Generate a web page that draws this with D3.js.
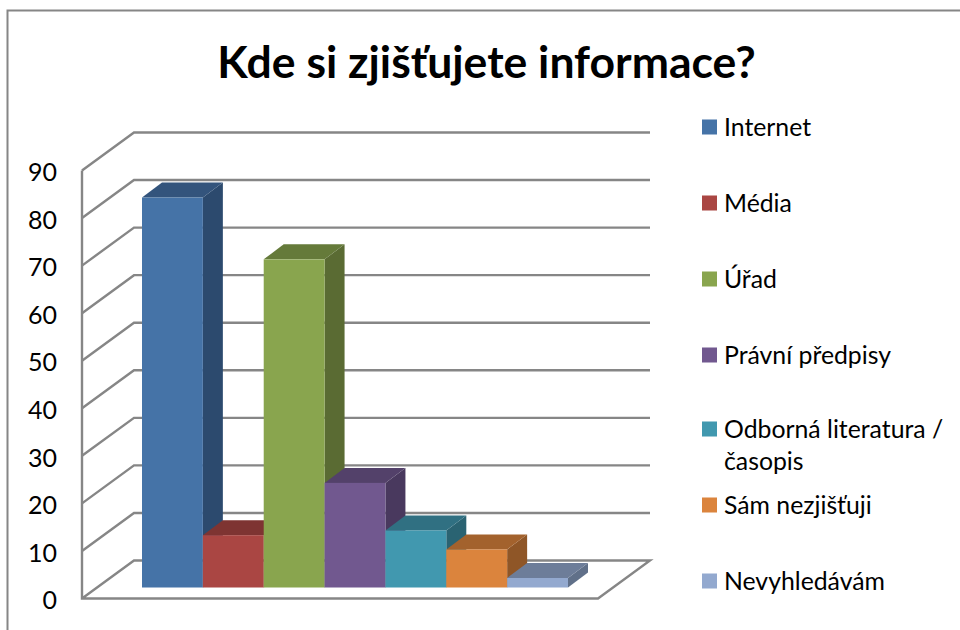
<!DOCTYPE html>
<html><head><meta charset="utf-8">
<script src="https://cdn.jsdelivr.net/npm/d3@7"></script>
<style>html,body{margin:0;padding:0;background:#fff}svg{display:block}text{font-family:Lato,"Open Sans",sans-serif;fill:#000}</style>
</head><body><svg width="960" height="630"></svg>
<script>
const categories = ["Internet","Média","Úřad","Právní předpisy","Odborná literatura / časopis","Sám nezjišťuji","Nevyhledávám"];
const values = [82,11,69,22,12,8,2];
const ticks = [0,10,20,30,40,50,60,70,80,90];
const front = ["#4573a7","#aa4643","#89a54e","#71588f","#4198af","#db843d","#93a9cf"];
const tops = ["#33547c","#7e3432","#657a3a","#53416a","#307082","#a3622d","#6d7d99"];
const sides = ["#2c4a6e","#6f2e2c","#5a6b33","#49395e","#2a6372","#8f5627","#607089"];
const legendLines = [["Internet"],["Média"],["Úřad"],["Právní předpisy"],["Odborná literatura /","časopis"],["Sám nezjišťuji"],["Nevyhledávám"]];
const legendCenters = [127,203,279,355,429,505,581];

const svg = d3.select("svg");
const grey = "#868686";
const dx = 52, dy = -38;        // wall depth
const y = d3.scaleLinear().domain([0,90]).range([598.5,170.5]);
const barDx = 20, barDy = -15;  // bar depth
const barBase = 587.5;
const yb = d3.scaleLinear().domain([0,90]).range([barBase, barBase-428]);
const x = d3.scaleBand().domain(categories).range([142,568]).padding(0);
const poly = p => p.map(q=>q.join(",")).join(" ");

// frame
svg.append("path").attr("d","M7.5,630V10.5H960").attr("fill","none").attr("stroke",grey).attr("stroke-width",2);

// grid
const g = svg.append("g").attr("fill","none").attr("stroke",grey).attr("stroke-width",2.4);
ticks.forEach(t=>{
  if(t>0) g.append("path").attr("d",`M82,${y(t)}L${82+dx},${y(t)+dy}H650`);
});
g.append("path").attr("d",`M82,${y(90)}V${y(0)}H598L650,${y(0)+dy}H${82+dx}L82,${y(0)}`).attr("stroke-linejoin","miter");

// y labels
svg.selectAll(".yl").data(ticks).join("text").attr("class","yl")
  .attr("x",57).attr("y",d=>y(d)+2).attr("dy","0.35em").attr("text-anchor","end")
  .attr("font-size",25).text(d=>d);

// bars
categories.forEach((c,i)=>{
  const x0=x(c), x1=x0+x.bandwidth(), yt=yb(values[i]);
  svg.append("polygon").attr("points",poly([[x1,yt],[x1+barDx,yt+barDy],[x1+barDx,barBase+barDy],[x1,barBase]])).attr("fill",sides[i]);
  svg.append("polygon").attr("points",poly([[x0,yt],[x0+barDx,yt+barDy],[x1+barDx,yt+barDy],[x1,yt]])).attr("fill",tops[i]);
  svg.append("rect").attr("x",x0).attr("y",yt).attr("width",x.bandwidth()).attr("height",barBase-yt).attr("fill",front[i]);
});

// title
svg.append("text").attr("x",486.5).attr("y",78).attr("text-anchor","middle")
  .attr("font-size",44.5).attr("font-weight",700).text("Kde si zjišťujete informace?");

// legend
categories.forEach((c,i)=>{
  const cy=legendCenters[i];
  svg.append("rect").attr("x",702).attr("y",cy-7.5).attr("width",15).attr("height",15).attr("fill",front[i]);
  legendLines[i].forEach((l,k)=>{
    svg.append("text").attr("x",724).attr("y",cy+k*32).attr("dy","0.35em").attr("font-size",24.8).text(l);
  });
});
</script></body></html>
